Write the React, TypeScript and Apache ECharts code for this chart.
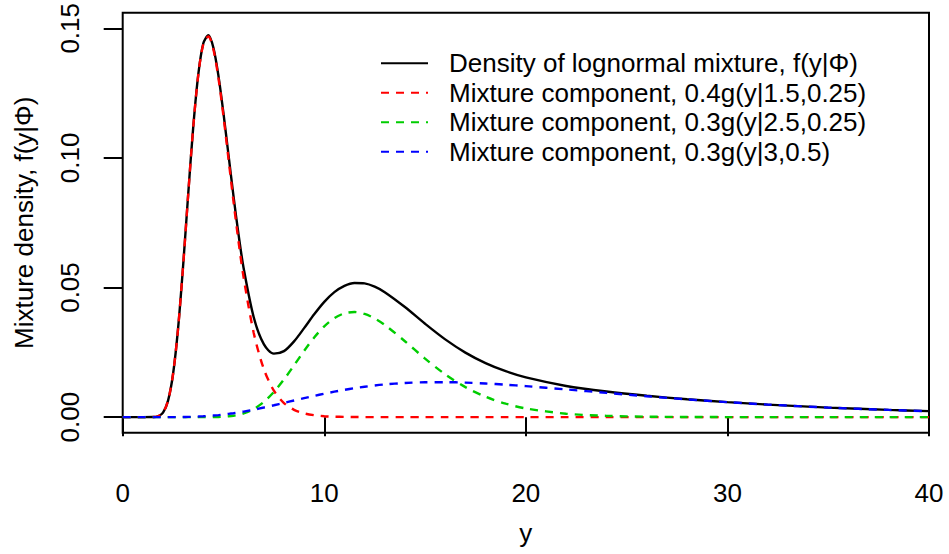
import React, { useEffect, useRef } from "react";
import * as echarts from "echarts";

const yGrid = [0, 1, 1.5, 1.75, 2, 2.25, 2.5, 2.75, 3, 3.25, 3.5, 3.75, 4, 4.25, 4.5, 4.75, 5, 5.25, 5.5, 5.75, 6, 6.5, 7, 7.5, 8, 8.5, 9, 9.5, 10, 10.5, 11, 11.5, 12, 12.5, 13, 14, 15, 16, 17, 18, 19, 20, 22, 24, 26, 28, 30, 32, 35, 38, 40];

const mixtureDensity = [0, 0, 0.00003, 0.00031, 0.00175, 0.00636, 0.01675, 0.03446, 0.05869, 0.08607, 0.11199, 0.13224, 0.14423, 0.14731, 0.14247, 0.13166, 0.11717, 0.10107, 0.08506, 0.07029, 0.05745, 0.03852, 0.02815, 0.0245, 0.02547, 0.02923, 0.03433, 0.03967, 0.04447, 0.04822, 0.05067, 0.05176, 0.05158, 0.05032, 0.04821, 0.04247, 0.03603, 0.03, 0.0249, 0.02084, 0.01771, 0.01532, 0.01203, 0.00987, 0.00824, 0.00692, 0.00581, 0.00485, 0.00369, 0.00279, 0.00232];

const component1 = [0, 0, 0.00003, 0.00031, 0.00175, 0.00636, 0.01673, 0.03443, 0.05864, 0.08598, 0.11184, 0.13201, 0.1439, 0.14684, 0.14183, 0.13079, 0.116, 0.09951, 0.08299, 0.06755, 0.05385, 0.03249, 0.01858, 0.0102, 0.00544, 0.00283, 0.00145, 0.00074, 0.00037, 0.00018, 0.00009, 0.00005, 0.00002, 0, 0, 0, 0, 0, 0, 0, 0, 0, 0, 0, 0, 0, 0, 0, 0, 0, 0];

const component2 = [0, 0, 0, 0, 0, 0, 0, 0, 0, 0, 0, 0, 0.00001, 0.00002, 0.00004, 0.00008, 0.00017, 0.00032, 0.00055, 0.00092, 0.00144, 0.00313, 0.00587, 0.00972, 0.01454, 0.01998, 0.02555, 0.03072, 0.03505, 0.03821, 0.04004, 0.04054, 0.03982, 0.0381, 0.0356, 0.02929, 0.02257, 0.01651, 0.01159, 0.00786, 0.00519, 0.00335, 0.00133, 0.0005, 0.00019, 0.00007, 0.00002, 0, 0, 0, 0];

const component3 = [0, 0, 0, 0, 0, 0.00001, 0.00002, 0.00003, 0.00006, 0.0001, 0.00015, 0.00023, 0.00033, 0.00045, 0.00061, 0.00079, 0.001, 0.00125, 0.00152, 0.00182, 0.00215, 0.00289, 0.00371, 0.00458, 0.0055, 0.00642, 0.00733, 0.00821, 0.00905, 0.00983, 0.01054, 0.01118, 0.01173, 0.01221, 0.01261, 0.01318, 0.01346, 0.01349, 0.01332, 0.01298, 0.01252, 0.01197, 0.0107, 0.00936, 0.00806, 0.00686, 0.00578, 0.00485, 0.00369, 0.00279, 0.00232];

const seriesNames = [
  "Density of lognormal mixture, f(y|\u03A6)",
  "Mixture component, 0.4g(y|1.5,0.25)",
  "Mixture component, 0.3g(y|2.5,0.25)",
  "Mixture component, 0.3g(y|3,0.5)",
];
const seriesColors = ["#000000", "#FF0000", "#00CD00", "#0000FF"];
const xTicks = [0, 10, 20, 30, 40];
const yTicks = [0, 0.05, 0.1, 0.15];

const FONT = "'Liberation Sans', Arial, Helvetica, sans-serif";
const FS = 26;

export default function App() {
  const ref = useRef<HTMLDivElement>(null);
  useEffect(() => {
    if (!ref.current) return;
    const chart = echarts.init(ref.current, null, { renderer: "svg" });
    const allValues = [mixtureDensity, component1, component2, component3];
    const series = allValues.map((vals, i) => ({
      name: seriesNames[i],
      type: "line",
      data: yGrid.map((x, j) => [x, vals[j]]),
      showSymbol: false,
      symbol: "none",
      smooth: 0.3,
      lineStyle: {
        color: seriesColors[i],
        width: 2.4,
        type: i === 0 ? "solid" : [8, 7],
      },
      itemStyle: { color: seriesColors[i] },
      z: 2 + i,
    }));
    chart.setOption({
      animation: false,
      backgroundColor: "#ffffff",
      textStyle: { fontFamily: FONT },
      grid: {
        left: 122.7,
        right: 20,
        top: 10,
        bottom: 121.3,
        show: true,
        borderColor: "#000",
        borderWidth: 2,
        backgroundColor: "transparent",
      },
      legend: {
        orient: "vertical",
        left: 380,
        top: 48.5,
        padding: 0,
        itemWidth: 47,
        itemHeight: 14,
        itemGap: 0,
        data: seriesNames,
        itemStyle: { opacity: 0 },
        textStyle: {
          fontFamily: FONT,
          fontSize: FS,
          color: "#000",
          lineHeight: 29.5,
          padding: [0, 0, 0, 16],
        },
      },
      xAxis: {
        type: "value",
        min: 0,
        max: 40,
        name: "y",
        nameLocation: "middle",
        nameGap: 87,
        nameTextStyle: { fontFamily: FONT, fontSize: FS, color: "#000" },
        axisLine: { show: false },
        splitLine: { show: false },
        axisTick: {
          show: true,
          inside: false,
          length: 19,
          customValues: xTicks,
          lineStyle: { color: "#000", width: 2 },
        },
        axisLabel: {
          customValues: xTicks,
          margin: 47,
          fontFamily: FONT,
          fontSize: FS,
          color: "#000",
          formatter: (v: number) => String(v),
        },
      },
      yAxis: {
        type: "value",
        min: -0.006,
        max: 0.156,
        name: "Mixture density, f(y|\u03A6)",
        nameLocation: "middle",
        nameGap: 86,
        nameTextStyle: { fontFamily: FONT, fontSize: FS, color: "#000" },
        axisLine: { show: false },
        splitLine: { show: false },
        axisTick: {
          show: true,
          inside: false,
          length: 19,
          customValues: yTicks,
          lineStyle: { color: "#000", width: 2 },
        },
        axisLabel: {
          customValues: yTicks,
          rotate: 90,
          margin: 40,
          fontFamily: FONT,
          fontSize: FS,
          color: "#000",
          formatter: (v: number) => v.toFixed(2),
        },
      },
      series,
    });
    return () => chart.dispose();
  }, []);
  return (
    <div
      ref={ref}
      style={{ position: "fixed", left: 0, top: 0, width: 949, height: 554 }}
    />
  );
}
